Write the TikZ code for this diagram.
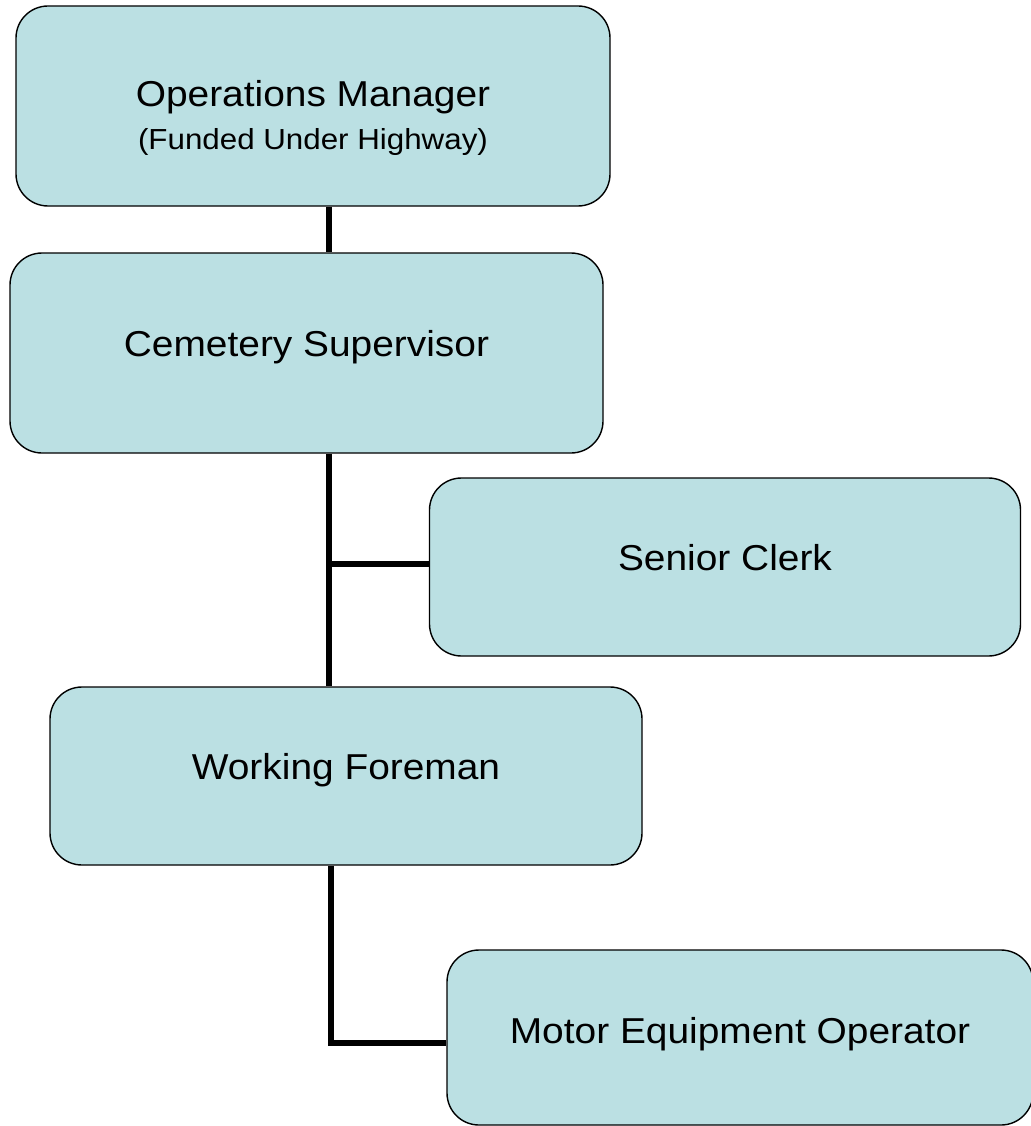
\documentclass[tikz,border=0pt]{standalone}
\usepackage{fontspec}
\setmainfont{Liberation Sans}[FakeStretch=1.08]
\definecolor{boxfill}{HTML}{BBE0E3}
\begin{document}
\begin{tikzpicture}[x=1pt,y=-1pt,
  orgbox/.style={draw=black,line width=1.4pt,fill=boxfill,rounded corners=32pt,
    inner sep=0pt,align=center,font=\fontsize{36}{44}\selectfont},
  link/.style={line width=5.5pt}]
\useasboundingbox (0,0) rectangle (1030,1126);
\node[orgbox,minimum width=594pt,minimum height=200pt] (om) at (313,106)
  {\raisebox{-13pt}[\height][\depth]{\begin{tabular}{@{}c@{}}Operations Manager\\[-1pt]{\fontsize{29}{35}\selectfont (Funded Under Highway)}\end{tabular}}};
\node[orgbox,minimum width=593pt,minimum height=200pt] (cs) at (306.5,353)
  {\raisebox{20pt}{Cemetery Supervisor}};
\node[orgbox,minimum width=591pt,minimum height=178pt] (sc) at (725,567)
  {\raisebox{20pt}{Senior Clerk}};
\node[orgbox,minimum width=592pt,minimum height=178pt] (wf) at (346,776)
  {\raisebox{20pt}{Working Foreman}};
\node[orgbox,minimum width=586pt,minimum height=175pt] (meo) at (740,1037.5)
  {\raisebox{14pt}{Motor Equipment Operator}};
\coordinate (spine) at (329,0);
\coordinate (spinelow) at (331,0);
\coordinate (branch) at (0,564);
\coordinate (branchlow) at (0,1043);
\draw[link] (om.south -| spine) -- (cs.north -| spine);
\draw[link] (cs.south -| spine) -- (wf.north -| spine);
\draw[link] (branch -| spine) -- (branch -| sc.west);
\draw[link] (wf.south -| spinelow) |- (branchlow -| meo.west);
\end{tikzpicture}
\end{document}
